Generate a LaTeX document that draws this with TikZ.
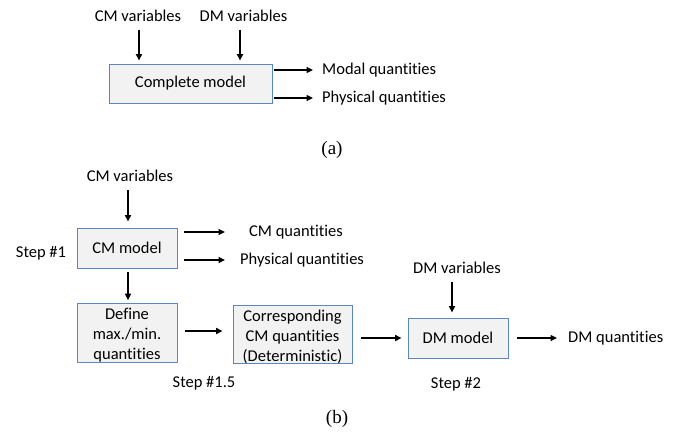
\documentclass[tikz,border=0pt]{standalone}
\usepackage{fontspec}
\setmainfont{Carlito}[Ligatures=NoCommon]
\newfontfamily\capfont{Liberation Serif}
\usetikzlibrary{arrows.meta}
\definecolor{boxline}{HTML}{5B87C0}
\definecolor{boxfill}{HTML}{F2F2F2}
\begin{document}
\begin{tikzpicture}[x=1pt,y=-1pt,
 every node/.style={font=\fontsize{16.5}{20}\selectfont},
 lbl/.style={inner sep=0pt},
 box/.style={draw=boxline, fill=boxfill, line width=0.9pt, inner sep=0pt, align=center},
 arr/.style={line width=1.6pt, -{Triangle[length=6.5pt,width=6pt]}},
 captxt/.style={font=\capfont\fontsize{19}{21}\selectfont, inner sep=0pt}]
\useasboundingbox (0,0) rectangle (684,434);

% ----- (a)
\node[box, minimum width=163pt, minimum height=39pt] (cm) at (190.5,83.5) {Complete model};
\node[lbl] (cmvA) at (138,16) {CM variables};
\node[lbl] (dmvA) at (243.5,16) {DM variables};
\node[lbl, anchor=west] (modal) at (322,70) {Modal quantities};
\node[lbl, anchor=west] (physA) at (322,98) {Physical quantities};
\node[captxt] (a) at (332,150) {(a)};

\draw[arr, shorten <=8pt, shorten >=3pt] ([xshift=1pt]cmvA.south) -- ([xshift=1pt]cmvA.south |- cm.north);
\draw[arr, shorten <=8pt, shorten >=3pt] ([xshift=-3.5pt]dmvA.south) -- ([xshift=-3.5pt]dmvA.south |- cm.north);
\draw[arr, shorten <=2pt, shorten >=9pt] (cm.east |- modal.west) -- (modal.west);
\draw[arr, shorten <=2pt, shorten >=9pt] (cm.east |- physA.west) -- (physA.west);

% ----- (b)
\node[lbl] (cmvB) at (130,176) {CM variables};
\node[box, minimum width=100pt, minimum height=40pt] (cmm) at (127,248) {CM model};
\node[lbl, anchor=west] (cmq) at (249,232) {CM quantities};
\node[lbl, anchor=west] (physB) at (240,260) {Physical quantities};
\node[lbl] (s1) at (41,253) {Step \#1};
\node[box, minimum width=100pt, minimum height=56pt] (def) at (127,333) {\rule{0pt}{16pt}Define\\max./min.\\quantities};
\node[box, minimum width=119pt, minimum height=57pt] (corr) at (292.5,334.5) {\rule{0pt}{16pt}Corresponding\\CM quantities\\(Deterministic)};
\node[box, minimum width=100pt, minimum height=40pt] (dmm) at (458,338) {DM model};
\node[lbl] (dmvB) at (457,268) {DM variables};
\node[lbl, anchor=west] (dmq) at (568,338) {DM quantities};
\node[lbl] (s15) at (204,383) {Step \#1.5};
\node[lbl] (s2) at (456,384) {Step \#2};
\node[captxt] (b) at (337,419) {(b)};

\draw[arr, shorten <=8.5pt, shorten >=6pt] ([xshift=-2pt]cmvB.south) -- ([xshift=-2pt]cmvB.south |- cmm.north);
\draw[arr, shorten <=7pt, shorten >=24pt] (cmm.east |- cmq.west) -- (cmq.west);
\draw[arr, shorten <=7pt, shorten >=15pt] (cmm.east |- physB.west) -- (physB.west);
\draw[arr, shorten <=4pt, shorten >=3pt] ([xshift=1pt]cmm.south) -- ([xshift=1pt]def.north);
\draw[arr, shorten <=8pt, shorten >=10pt] ([yshift=2pt]def.east) -- ([yshift=2pt]def.east -| corr.west);
\draw[arr, shorten <=9pt, shorten >=6pt] (corr.east |- dmm.west) -- (dmm.west);
\draw[arr, shorten <=8.5pt, shorten >=5pt] ([xshift=-5pt]dmvB.south) -- ([xshift=-5pt]dmvB.south |- dmm.north);
\draw[arr, shorten <=9pt, shorten >=11pt] (dmm.east) -- (dmq.west);
\end{tikzpicture}
\end{document}
